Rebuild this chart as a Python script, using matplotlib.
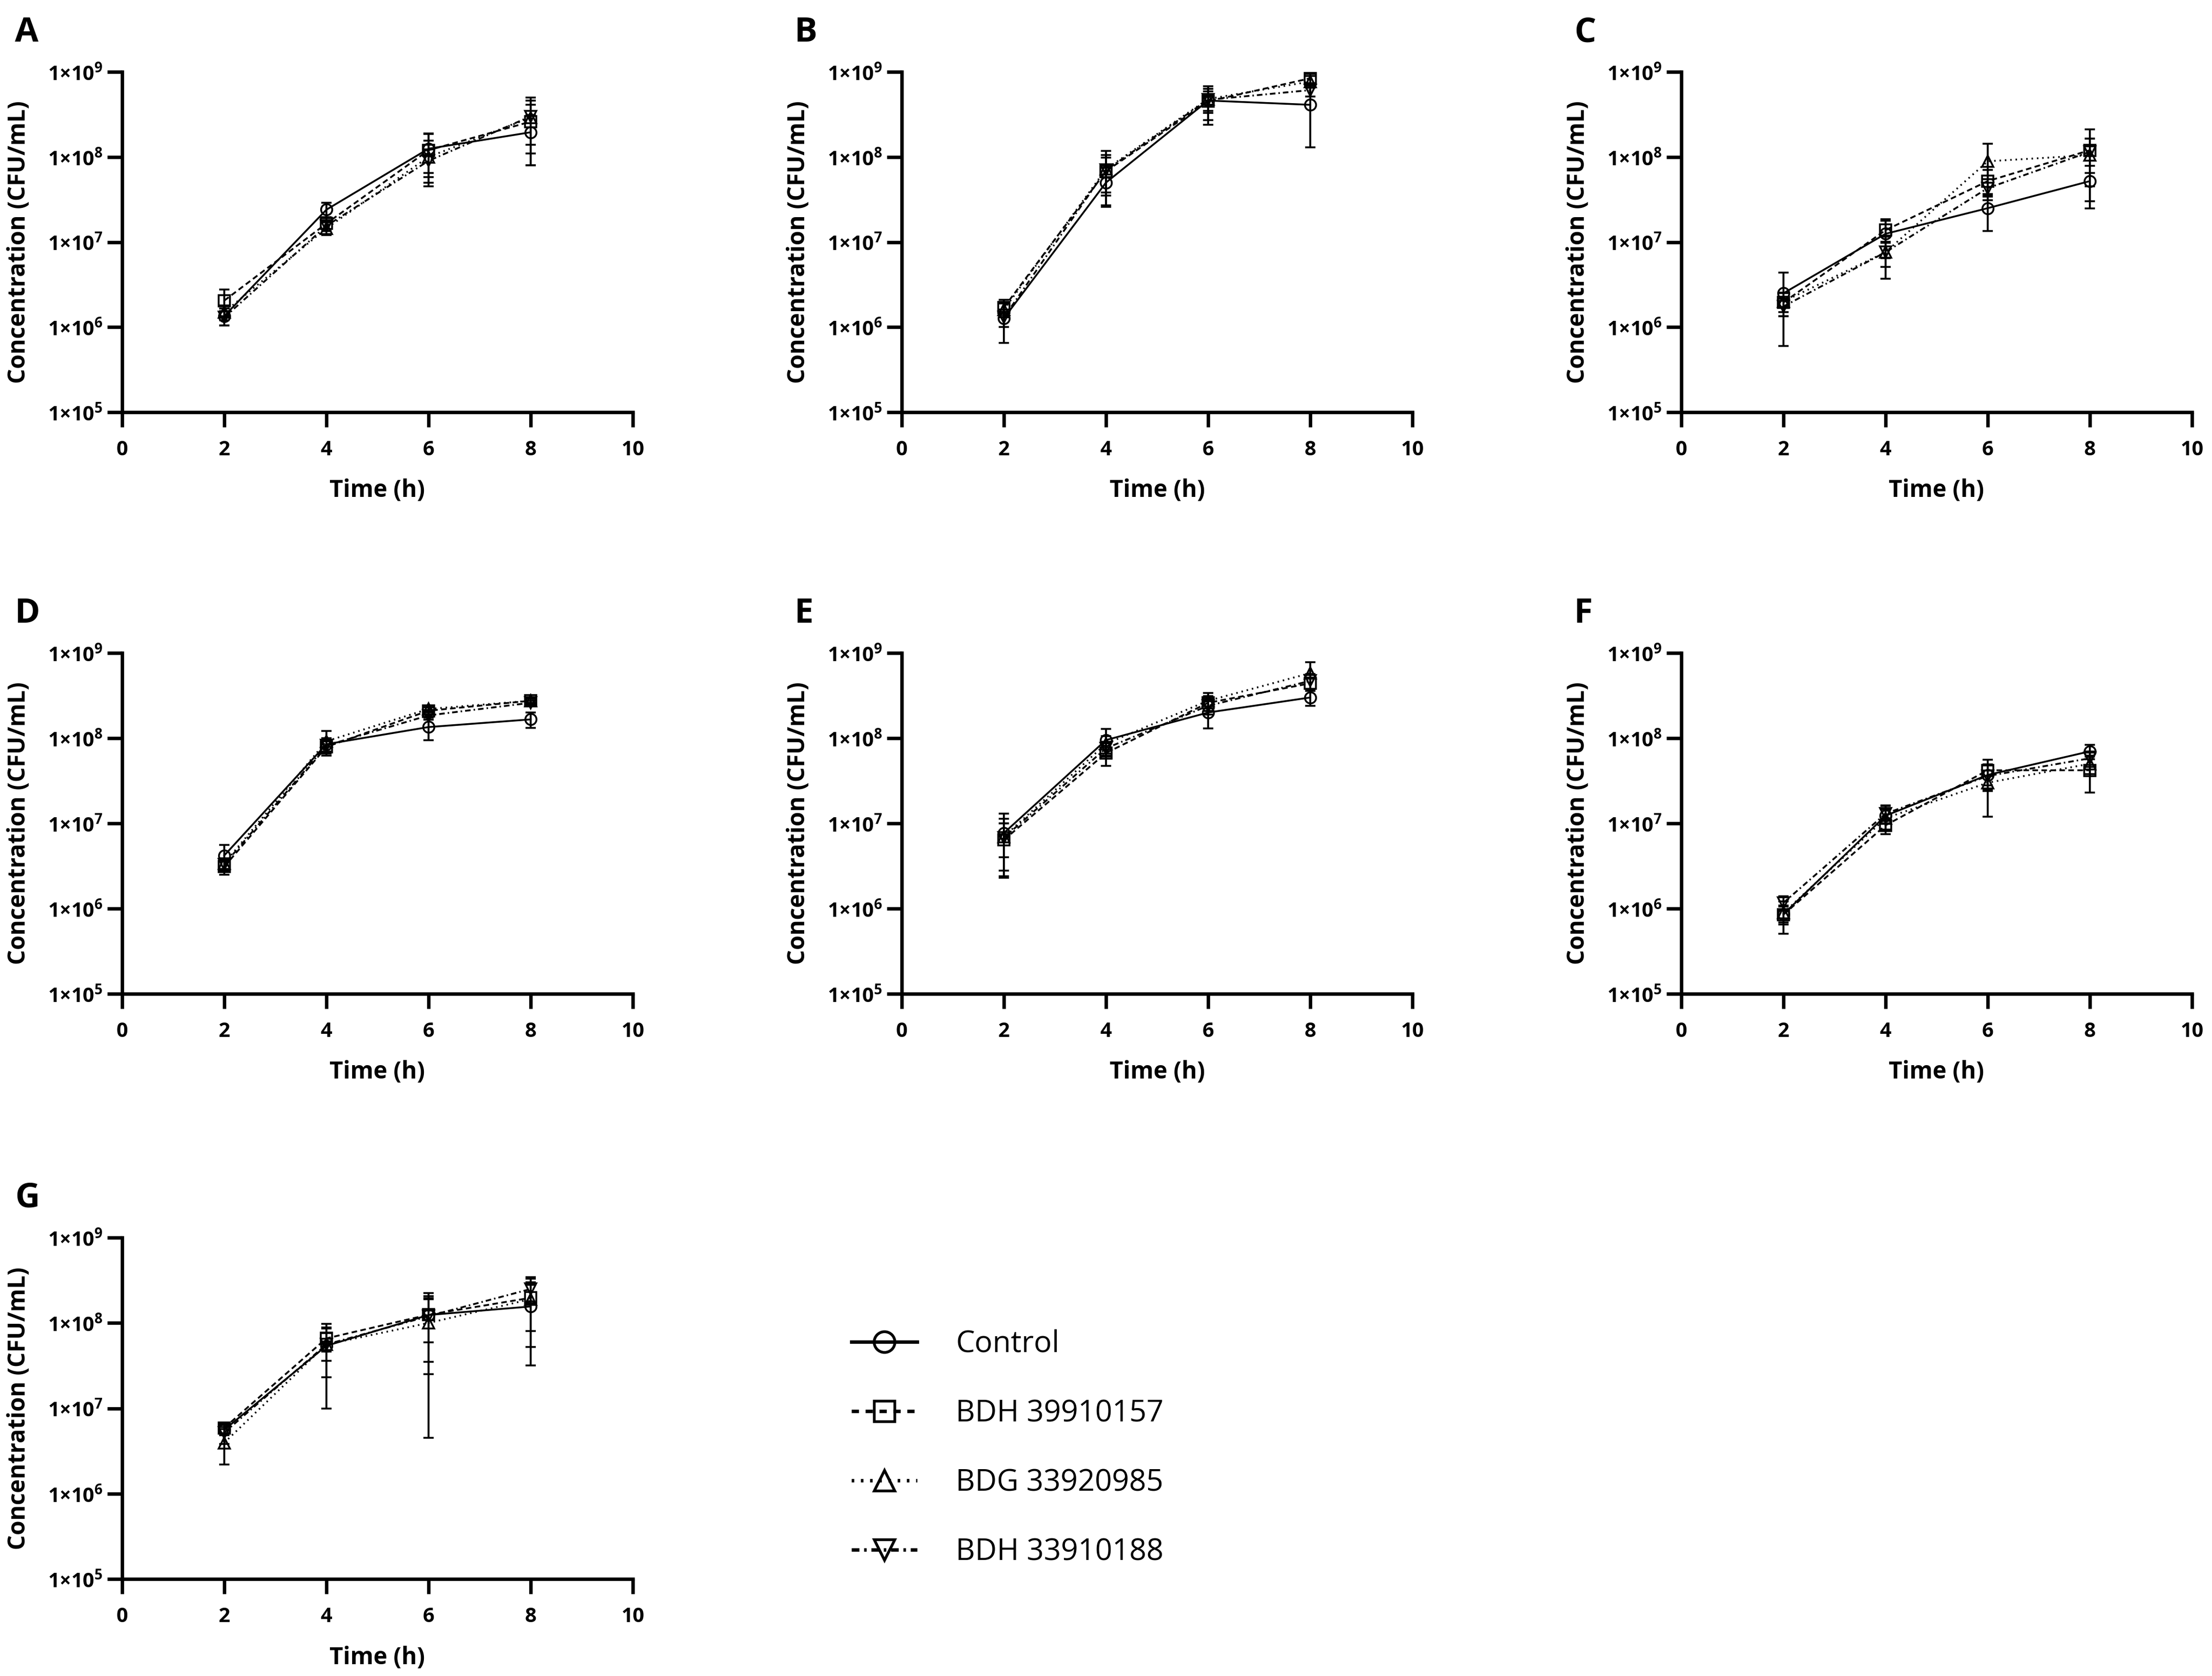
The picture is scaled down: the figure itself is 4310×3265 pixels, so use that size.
import matplotlib
matplotlib.use('Agg')
import matplotlib.pyplot as plt
from matplotlib.lines import Line2D

plt.rcParams['font.family'] = ['Open Sans', 'DejaVu Sans']
plt.rcParams['mathtext.fontset'] = 'custom'
plt.rcParams['mathtext.rm'] = 'Open Sans:bold'
plt.rcParams['mathtext.it'] = 'Open Sans:bold'
plt.rcParams['mathtext.bf'] = 'Open Sans:bold'
plt.rcParams['lines.scale_dashes'] = False

# ---- data ----
times = [2, 4, 6, 8]
series_names = ['Control', 'BDH 39910157', 'BDG 33920985', 'BDH 33910188']
panel_letters = ['A', 'B', 'C', 'D', 'E', 'F', 'G']
y_exponents = [5, 6, 7, 8, 9]
x_ticks = [0, 2, 4, 6, 8, 10]

# rows: Control, BDH 39910157, BDG 33920985, BDH 33910188
A_mean = [[1.35e6, 2.4e7, 1.25e8, 1.95e8],
          [2.05e6, 1.65e7, 1.2e8, 2.6e8],
          [1.5e6, 1.45e7, 1.0e8, 2.9e8],
          [1.3e6, 1.55e7, 9.0e7, 3.0e8]]
A_sd = [[3e5, 5e6, 6e7, 1.15e8],
        [7e5, 3e6, 7e7, 1.5e8],
        [3e5, 2.5e6, 5.5e7, 2.1e8],
        [2.5e5, 2e6, 3.2e7, 1.6e8]]

B_mean = [[1.27e6, 5.0e7, 4.6e8, 4.1e8],
          [1.7e6, 6.8e7, 4.5e8, 8.4e8],
          [1.6e6, 7.2e7, 4.8e8, 7.7e8],
          [1.3e6, 7.0e7, 4.7e8, 6.1e8]]
B_sd = [[6.2e5, 2.4e7, 2.2e8, 2.8e8],
        [4e5, 3e7, 1.8e8, 1.0e8],
        [3e5, 4.5e7, 1.5e8, 1.2e8],
        [3e5, 3.5e7, 1.2e8, 1.0e8]]

C_mean = [[2.5e6, 1.25e7, 2.5e7, 5.2e7],
          [1.95e6, 1.38e7, 5.2e7, 1.2e8],
          [2.0e6, 7.6e6, 8.9e7, 1.05e8],
          [1.75e6, 7.6e6, 4.3e7, 1.15e8]]
C_sd = [[1.9e6, 6e6, 1.15e7, 2.7e7],
        [6e5, 4e6, 1.8e7, 9e7],
        [5e5, 2.5e6, 5.4e7, 6e7],
        [4e5, 3.9e6, 1.2e7, 5e7]]

D_mean = [[4.2e6, 8.5e7, 1.35e8, 1.66e8],
          [3.1e6, 7.9e7, 2.1e8, 2.75e8],
          [3.4e6, 9.2e7, 2.2e8, 2.75e8],
          [3.3e6, 8.2e7, 1.85e8, 2.6e8]]
D_sd = [[1.4e6, 1.5e7, 4e7, 3.4e7],
        [6e5, 1.3e7, 2e7, 2e7],
        [5e5, 3e7, 2e7, 1.5e7],
        [5e5, 1.5e7, 2e7, 1.5e7]]

E_mean = [[7.7e6, 9.5e7, 2.0e8, 3.0e8],
          [6.4e6, 6.7e7, 2.6e8, 4.4e8],
          [7.0e6, 8.6e7, 2.75e8, 5.8e8],
          [6.8e6, 7.6e7, 2.4e8, 4.7e8]]
E_sd = [[5.3e6, 3.3e7, 7e7, 6e7],
        [3.6e6, 2.0e7, 5e7, 7e7],
        [3e6, 2e7, 6.5e7, 2.0e8],
        [4.5e6, 1.5e7, 5e7, 1e8]]

F_mean = [[8.6e5, 1.23e7, 3.7e7, 7.0e7],
          [8.5e5, 9.5e6, 4.2e7, 4.2e7],
          [8.9e5, 1.15e7, 3.0e7, 5.0e7],
          [1.17e6, 1.3e7, 3.6e7, 5.8e7]]
F_sd = [[3.5e5, 4e6, 1.2e7, 1.3e7],
        [2e5, 2e6, 1.4e7, 1.9e7],
        [2e5, 3e6, 1.8e7, 1.2e7],
        [2.3e5, 3e6, 1.2e7, 1.2e7]]

G_mean = [[5.6e6, 5.4e7, 1.24e8, 1.56e8],
          [5.9e6, 6.6e7, 1.25e8, 1.97e8],
          [3.95e6, 5.6e7, 1.0e8, 1.9e8],
          [5.2e6, 5.6e7, 1.2e8, 2.5e8]]
G_sd = [[8e5, 4.4e7, 6.5e7, 1.24e8],
        [8e5, 2e7, 1.0e8, 1.45e8],
        [1.75e6, 3.3e7, 9.55e7, 1.1e8],
        [1.4e6, 2e7, 8.5e7, 8e7]]

panel_data = [(A_mean, A_sd), (B_mean, B_sd), (C_mean, C_sd), (D_mean, D_sd),
              (E_mean, E_sd), (F_mean, F_sd), (G_mean, G_sd)]

# ---- styles ----
markers = ['o', 's', '^', 'v']
plot_ls = ['-', (0, (2.6, 1.6)), (0, (0.7, 1.8)), (0, (2.6, 1.4, 0.7, 1.4))]
legend_ls = ['-', (0, (3.4, 3.1)), (0, (1.2, 3.1)), (0, (3.6, 2.2, 1.2, 2.2))]

W, H = 4310, 3265
fig = plt.figure(figsize=(W / 300, H / 300), dpi=300)

col_left = [238, 1757, 3276]
row_top_bottom = [(140, 803), (1272, 1936), (2411, 3076)]
ax_w = 995

for i, (means, sds) in enumerate(panel_data):
    r, c = divmod(i, 3)
    top, bot = row_top_bottom[r]
    left = col_left[c]
    ax = fig.add_axes([left / W, 1 - bot / H, ax_w / W, (bot - top) / H])

    for k in range(4):
        ax.errorbar(times, means[k], yerr=sds[k], color='black',
                    marker=markers[k], markersize=5.2, markerfacecolor='none',
                    markeredgecolor='black', markeredgewidth=0.85,
                    linewidth=0.85, linestyle=plot_ls[k],
                    elinewidth=0.9, capsize=2.5, capthick=1.0, zorder=3)

    ax.set_yscale('log')
    ax.set_xlim(0, 10)
    ax.set_ylim(1e5, 1e9)
    ax.set_xticks(x_ticks)
    ax.set_xticklabels([str(t) for t in x_ticks])
    ax.set_yticks([10.0 ** e for e in y_exponents])
    ax.set_yticklabels(['1×10$^{%d}$' % e for e in y_exponents])
    ax.yaxis.set_minor_locator(matplotlib.ticker.NullLocator())

    for s in ['top', 'right']:
        ax.spines[s].set_visible(False)
    for s in ['left', 'bottom']:
        ax.spines[s].set_linewidth(1.6)
    ax.tick_params(axis='both', direction='out', width=1.6, length=7,
                   labelsize=9.5, colors='black')
    ax.tick_params(axis='y', pad=2)
    ax.tick_params(axis='x', pad=6)
    for lab in ax.get_xticklabels() + ax.get_yticklabels():
        lab.set_fontweight('bold')

    ax.set_xlabel('Time (h)', fontsize=11, fontweight='bold')
    ax.set_ylabel('Concentration (CFU/mL)', fontsize=11, fontweight='bold')
    ax.xaxis.set_label_coords(0.5, -0.195)
    ax.yaxis.set_label_coords(-0.179, 0.5)

    fig.text((left - 209) / W, 1 - (top - 110) / H, panel_letters[i],
             fontsize=16, fontweight='bold', ha='left', va='top')

handles = [Line2D([], [], color='black', linewidth=1.6, linestyle=legend_ls[k],
                  marker=markers[k], markersize=9.7, markerfacecolor='none',
                  markeredgecolor='black', markeredgewidth=1.3)
           for k in range(4)]
fig.legend(handles, series_names, loc='upper left',
           bbox_to_anchor=(1659 / W, 1 - 2590 / H), frameon=False,
           fontsize=14, handlelength=30.6 / 14, handletextpad=1.3,
           labelspacing=1.31, borderpad=0, borderaxespad=0, numpoints=1)

fig.savefig('out.png', dpi=300)
